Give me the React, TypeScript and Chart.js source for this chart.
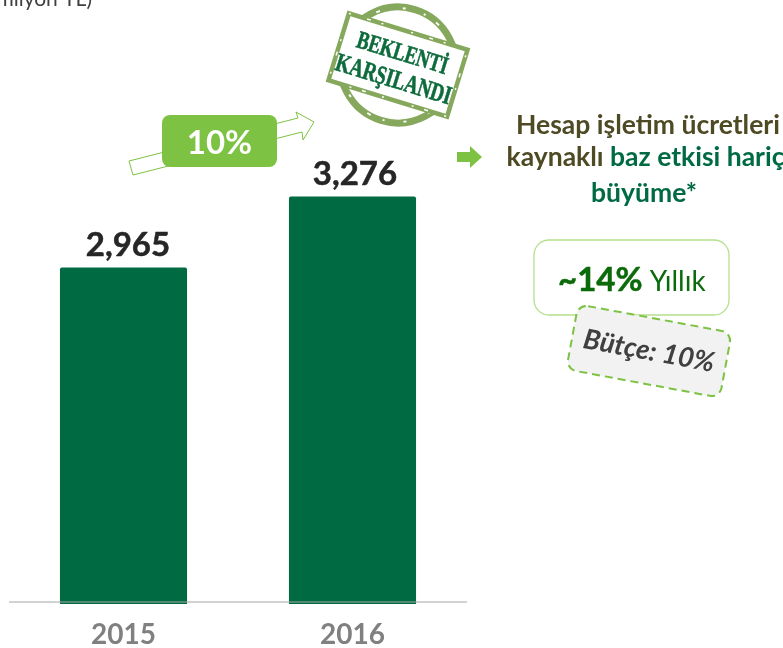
import React, { useEffect, useRef } from "react";
import { Chart, registerables } from "chart.js";

Chart.register(...registerables);

const categories = ["2015", "2016"];
const values = [2965, 3276];
const valueLabels = ["2,965", "3,276"];
const yMin = 1491;
const yMax = 4137;
const growthLabel = "10%";
const unitLabel = "(milyon TL)";
const stampLines = ["BEKLENTİ", "KARŞILANDI"];
const noteLine1 = "Hesap işletim ücretleri";
const noteLine2a = "kaynaklı ";
const noteLine2b = "baz etkisi hariç";
const noteLine3 = "büyüme*";
const kpiBold = "~14%";
const kpiLight = " Yıllık";
const budgetLabel = "Bütçe: 10%";

const FONT = "Lato, 'Open Sans', sans-serif";
const GREEN = "#006a43";
const LIGHT = "#7dc242";
const OLIVE = "#4e4a24";
const STAMP = "#86a85c";

function roundRect(c: CanvasRenderingContext2D, x: number, y: number, w: number, h: number, r: number) {
  c.beginPath();
  c.roundRect(x, y, w, h, r);
}

function poly(c: CanvasRenderingContext2D, pts: number[][]) {
  c.beginPath();
  pts.forEach((p, i) => (i ? c.lineTo(p[0], p[1]) : c.moveTo(p[0], p[1])));
  c.closePath();
}

// Filled text with a hairline outline, to reach the heavier look of the original face.
function heavy(c: CanvasRenderingContext2D, s: string, x: number, y: number, w = 0.5) {
  c.fillText(s, x, y);
  c.save();
  c.strokeStyle = c.fillStyle as string;
  c.lineWidth = w;
  c.lineJoin = "round";
  c.strokeText(s, x, y);
  c.restore();
}

const annotations = {
  id: "annotations",
  afterDraw(chart: any) {
    const c: CanvasRenderingContext2D = chart.ctx;
    const meta = chart.getDatasetMeta(0);
    c.save();

    // axis line over bars
    c.strokeStyle = "#a6a6a6";
    c.lineWidth = 1.2;
    c.beginPath();
    c.moveTo(chart.chartArea.left, 602);
    c.lineTo(chart.chartArea.right, 602);
    c.stroke();

    // value labels
    c.textAlign = "center";
    c.textBaseline = "alphabetic";
    c.fillStyle = "#262626";
    c.font = `bold 33px ${FONT}`;
    const labelShift = [4.5, 2.5];
    meta.data.forEach((bar: any, i: number) => {
      heavy(c, valueLabels[i], bar.x + labelShift[i], bar.y - 12);
    });

    // unit text, clipped by the page edge
    c.textAlign = "right";
    c.fillStyle = "#404040";
    c.font = `21px ${FONT}`;
    c.fillText(unitLabel, 92, 6);

    // growth arrow
    c.fillStyle = "#ffffff";
    c.strokeStyle = LIGHT;
    c.lineWidth = 1;
    poly(c, [[129, 161], [298, 118], [296, 112], [314, 122], [303, 140], [302, 132], [133, 175]]);
    c.fill();
    c.stroke();

    // growth badge
    c.fillStyle = LIGHT;
    roundRect(c, 162, 115, 115, 52, 8);
    c.fill();
    c.fillStyle = "#ffffff";
    c.textAlign = "center";
    c.font = `bold 33px ${FONT}`;
    c.fillText(growthLabel, 219.5, 154);

    // stamp
    c.save();
    c.translate(398, 65);
    c.rotate((17 * Math.PI) / 180);
    c.strokeStyle = STAMP;
    c.lineWidth = 7;
    c.beginPath();
    c.arc(0, 0, 58, 0, Math.PI * 2);
    c.stroke();
    c.strokeStyle = "#ffffff";
    c.lineWidth = 2;
    c.setLineDash([3, 19, 2, 13, 4, 23]);
    c.beginPath();
    c.arc(0, 0, 57, 0, Math.PI * 2);
    c.stroke();
    c.setLineDash([]);
    c.fillStyle = "#ffffff";
    c.fillRect(-62, -35, 124, 70);
    c.strokeStyle = STAMP;
    c.lineWidth = 4.5;
    c.strokeRect(-62, -35, 124, 70);
    c.strokeStyle = "#ffffff";
    c.lineWidth = 1.5;
    c.setLineDash([2, 17, 4, 11, 2, 29]);
    c.strokeRect(-62, -35, 124, 70);
    c.setLineDash([]);
    c.fillStyle = "#0d6b3c";
    c.save();
    c.scale(0.72, 1);
    c.font = "bold 25px 'Liberation Serif', serif";
    heavy(c, stampLines[0], 1, -5, 0.6);
    c.font = "bold 26px 'Liberation Serif', serif";
    heavy(c, stampLines[1], 0, 23, 0.6);
    c.restore();
    c.restore();

    // right arrow
    c.fillStyle = LIGHT;
    poly(c, [[457, 152], [470, 152], [470, 146], [482, 157], [470, 168], [470, 162], [457, 162]]);
    c.fill();

    // note text
    c.font = `bold 26.5px ${FONT}`;
    c.textAlign = "center";
    c.fillStyle = OLIVE;
    c.fillText(noteLine1, 648, 134);
    const wa = c.measureText(noteLine2a).width;
    const wb = c.measureText(noteLine2b).width;
    const startX = 645.5 - (wa + wb) / 2;
    c.textAlign = "left";
    c.fillText(noteLine2a, startX, 166);
    c.fillStyle = GREEN;
    c.fillText(noteLine2b, startX + wa, 166);
    c.textAlign = "center";
    c.fillText(noteLine3, 644, 202);

    // KPI box
    c.strokeStyle = "#b4e08c";
    c.lineWidth = 1.3;
    c.fillStyle = "#ffffff";
    roundRect(c, 534, 240, 195, 75, 15);
    c.fill();
    c.stroke();
    c.textAlign = "left";
    c.fillStyle = "#0b6b0b";
    c.font = `bold 33px ${FONT}`;
    heavy(c, kpiBold, 558, 291);
    const kw = c.measureText(kpiBold).width;
    c.font = `28px ${FONT}`;
    c.fillText(kpiLight, 558 + kw, 291);

    // budget tag
    c.save();
    c.translate(649, 351);
    c.rotate((10.5 * Math.PI) / 180);
    c.fillStyle = "#f2f2f2";
    c.strokeStyle = LIGHT;
    c.lineWidth = 2;
    c.setLineDash([8, 5]);
    roundRect(c, -78, -33, 156, 66, 10);
    c.fill();
    c.stroke();
    c.setLineDash([]);
    c.fillStyle = "#404040";
    c.textAlign = "center";
    c.font = `italic bold 27.5px ${FONT}`;
    c.fillText(budgetLabel, 0, 9);
    c.restore();

    c.restore();
  },
};

export default function App() {
  const ref = useRef<HTMLCanvasElement>(null);
  useEffect(() => {
    const chart = new Chart(ref.current as HTMLCanvasElement, {
      type: "bar",
      data: {
        labels: categories,
        datasets: [
          {
            data: values,
            backgroundColor: GREEN,
            barPercentage: 1,
            categoryPercentage: 0.555,
            borderRadius: 2,
            borderSkipped: false,
          },
        ],
      },
      options: {
        animation: false,
        responsive: false,
        devicePixelRatio: 1,
        layout: { padding: { left: 9, right: 316, top: 0, bottom: 0 } },
        plugins: { legend: { display: false }, tooltip: { enabled: false } },
        scales: {
          x: {
            grid: { display: false },
            border: { display: false },
            ticks: {
              color: "#808080",
              font: { family: FONT, size: 28, weight: "bold" },
              padding: 6,
              maxRotation: 0,
            },
            afterFit: (s: any) => {
              s.height = 44;
            },
          },
          y: { display: false, min: yMin, max: yMax },
        },
      },
      plugins: [annotations],
    } as any);
    return () => chart.destroy();
  }, []);
  return (
    <div style={{ position: "absolute", left: 0, top: 0, width: 783, height: 648, background: "#fff" }}>
      <canvas ref={ref} width={783} height={648} style={{ display: "block" }} />
    </div>
  );
}
